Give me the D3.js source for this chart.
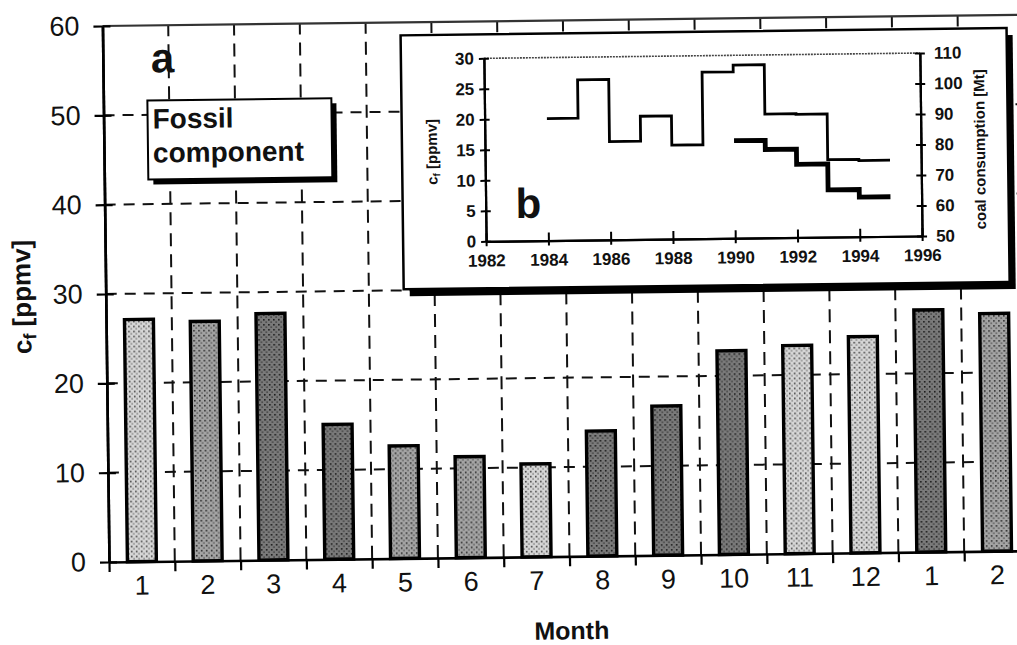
<!DOCTYPE html>
<html>
<head>
<meta charset="utf-8">
<script src="https://cdn.jsdelivr.net/npm/d3@7"></script>
<style>
  body { margin: 0; background: #fff; }
  svg { display: block; }
  text { font-family: "Liberation Sans", Arial, Helvetica, sans-serif; fill: #111; }
</style>
</head>
<body>
<svg id="chart" width="1017" height="645"></svg>
<script>
// panel a: monthly fossil component
var months = ["1", "2", "3", "4", "5", "6", "7", "8", "9", "10", "11", "12", "1", "2"];
var fossilPpmv = [27.1, 26.8, 27.6, 15.1, 12.6, 11.3, 10.4, 14.0, 16.7, 22.8, 23.3, 24.2, 27.1, 26.6];
var ppmvTicks = [0, 10, 20, 30, 40, 50, 60];

// panel b: annual c_f and coal consumption
var cfYears = [1984, 1985, 1986, 1987, 1988, 1989, 1990, 1991, 1992, 1993, 1994];
var cfAnnual = [20.0, 26.3, 16.1, 20.2, 15.4, 27.3, 28.4, 20.3, 20.2, 12.7, 12.5];
var coalYears = [1990, 1991, 1992, 1993, 1994];
var coalMt = [82, 79, 74, 65.5, 63];
var yearTicks = [1982, 1984, 1986, 1988, 1990, 1992, 1994, 1996];
var cfTicks = [0, 5, 10, 15, 20, 25, 30];
var coalTicks = [50, 60, 70, 80, 90, 100, 110];

// shading of the stippled bars (style only)
var barTone = [0, 1, 2, 2, 1, 1, 0, 2, 2, 2, 0, 0, 2, 1];

var svg = d3.select("#chart");

// stipple patterns
var defs = svg.append("defs");
var tones = [
  { bg: "#d6d6d6", dot: "#444" },
  { bg: "#a4a4a4", dot: "#2a2a2a" },
  { bg: "#7a7a7a", dot: "#1a1a1a" }
];
tones.forEach(function (t, k) {
  var p = defs.append("pattern").attr("id", "tone" + k)
    .attr("patternUnits", "userSpaceOnUse").attr("width", 5).attr("height", 5);
  p.append("rect").attr("width", 5).attr("height", 5).attr("fill", t.bg);
  p.append("rect").attr("x", 1).attr("y", 1).attr("width", 1.6).attr("height", 1.6).attr("fill", t.dot);
  p.append("rect").attr("x", 3.5).attr("y", 3.5).attr("width", 1.2).attr("height", 1.2).attr("fill", t.dot);
});

// the scan is slightly tilted
var root = svg.append("g").attr("transform", "rotate(-0.7,107,562)");

var x0 = 109, x1 = 1030;
var y = d3.scaleLinear().domain([0, 60]).range([562, 26]);
var xEdge = d3.scaleLinear().domain([0, months.length]).range([x0, x1]);
var xBand = d3.scaleBand().domain(d3.range(months.length)).range([x0, x1]);
var xBar = d3.scaleBand().domain(d3.range(months.length)).range([x0, x1])
  .paddingInner(0.56).paddingOuter(0.28);

// grid
root.append("g").selectAll("line.h")
  .data(ppmvTicks.filter(function (d) { return d > 0 && d < 60; }))
  .enter().append("line")
  .attr("x1", x0).attr("x2", x1)
  .attr("y1", function (d) { return y(d); }).attr("y2", function (d) { return y(d); })
  .attr("stroke", "#111").attr("stroke-width", 2).attr("stroke-dasharray", "11,8");

root.append("g").selectAll("line.v")
  .data(d3.range(1, months.length + 1))
  .enter().append("line")
  .attr("x1", function (d) { return xEdge(d); }).attr("x2", function (d) { return xEdge(d); })
  .attr("y1", y(0)).attr("y2", y(60))
  .attr("stroke", "#111").attr("stroke-width", 2).attr("stroke-dasharray", "13,8");

root.append("line")
  .attr("x1", x0).attr("x2", x1).attr("y1", y(60)).attr("y2", y(60))
  .attr("stroke", "#333").attr("stroke-width", 2.2);

// bars
root.selectAll(".bar")
  .data(fossilPpmv)
  .enter().append("rect")
  .attr("class", "bar")
  .attr("x", function (d, i) { return xBar(i); })
  .attr("width", xBar.bandwidth())
  .attr("y", function (d) { return y(d); })
  .attr("height", function (d) { return y(0) - y(d); })
  .attr("fill", function (d, i) { return "url(#tone" + barTone[i] + ")"; })
  .attr("stroke", "#000").attr("stroke-width", 3.4);

// y axis with cross ticks
var yAxisL = root.append("g").attr("transform", "translate(" + x0 + ",0)")
  .call(d3.axisLeft(y).tickValues(ppmvTicks).tickSize(9).tickSizeOuter(0).tickPadding(14));
root.append("g").attr("transform", "translate(" + x0 + ",0)")
  .call(d3.axisRight(y).tickValues(ppmvTicks).tickSize(8).tickSizeOuter(0).tickFormat(""));
yAxisL.selectAll("text").style("font-size", "27px");

// x axis: edge ticks and month labels
root.append("g").attr("transform", "translate(0," + y(0) + ")")
  .call(d3.axisBottom(xEdge).tickValues(d3.range(months.length + 1)).tickSize(10).tickSizeOuter(0).tickFormat(""));
var xAxis = root.append("g").attr("transform", "translate(0," + y(0) + ")")
  .call(d3.axisBottom(xBand).tickSize(0).tickPadding(14).tickFormat(function (i) { return months[i]; }));
xAxis.select(".domain").remove();
xAxis.selectAll("text").style("font-size", "27px");

root.selectAll(".domain").attr("stroke-width", 2.6).attr("stroke", "#000");
root.selectAll(".tick line").attr("stroke-width", 2.2).attr("stroke", "#000");

// titles
var yt = root.append("text")
  .attr("transform", "translate(34,296) rotate(-90)")
  .attr("text-anchor", "middle")
  .style("font-size", "26px").style("font-weight", "bold");
yt.append("tspan").text("c");
yt.append("tspan").text("f").style("font-size", "18px").attr("dy", 5);
yt.append("tspan").text(" [ppmv]").attr("dy", -5);

root.append("text").attr("x", 571).attr("y", 645)
  .attr("text-anchor", "middle")
  .style("font-size", "25px").style("font-weight", "bold").text("Month");

root.append("text").attr("x", 157).attr("y", 73)
  .style("font-size", "42px").style("font-weight", "bold").text("a");

// Fossil component box
var fb = root.append("g").attr("transform", "translate(153,101)");
fb.append("rect").attr("x", 5).attr("y", 5).attr("width", 184).attr("height", 79).attr("fill", "#000");
fb.append("rect").attr("width", 184).attr("height", 79).attr("fill", "#fff")
  .attr("stroke", "#000").attr("stroke-width", 2);
fb.append("text").attr("x", 5).attr("y", 28)
  .style("font-size", "28px").style("font-weight", "bold").text("Fossil");
fb.append("text").attr("x", 5).attr("y", 62)
  .style("font-size", "28px").style("font-weight", "bold").text("component");

// inset b
var inset = root.append("g");
inset.append("rect").attr("x", 413).attr("y", 46).attr("width", 606).attr("height", 254).attr("fill", "#000");
inset.append("rect").attr("x", 407).attr("y", 39).attr("width", 606).attr("height", 254)
  .attr("fill", "#fff").attr("stroke", "#000").attr("stroke-width", 2.5);

var bx = d3.scaleLinear().domain([1982, 1996]).range([490, 926]);
var by = d3.scaleLinear().domain([0, 30]).range([246, 63]);
var byCoal = d3.scaleLinear().domain([50, 110]).range([246, 63]);

inset.append("line")
  .attr("x1", bx(1982)).attr("x2", bx(1996)).attr("y1", by(30)).attr("y2", by(30))
  .attr("stroke", "#444").attr("stroke-width", 1.6).attr("stroke-dasharray", "2,1");

inset.append("g").attr("transform", "translate(" + bx(1982) + ",0)")
  .call(d3.axisLeft(by).tickValues(cfTicks).tickSize(5).tickSizeOuter(0).tickPadding(5));
inset.append("g").attr("transform", "translate(" + bx(1982) + ",0)")
  .call(d3.axisRight(by).tickValues(cfTicks).tickSize(5).tickSizeOuter(0).tickFormat(""));
inset.append("g").attr("transform", "translate(" + bx(1996) + ",0)")
  .call(d3.axisRight(byCoal).tickValues(coalTicks).tickSize(5).tickSizeOuter(0).tickPadding(9));
inset.append("g").attr("transform", "translate(" + bx(1996) + ",0)")
  .call(d3.axisLeft(byCoal).tickValues(coalTicks).tickSize(5).tickSizeOuter(0).tickFormat(""));
inset.append("g").attr("transform", "translate(0," + by(0) + ")")
  .call(d3.axisBottom(bx).tickValues(yearTicks).tickSize(5).tickSizeOuter(0).tickFormat(d3.format("d")).tickPadding(8));
inset.append("g").attr("transform", "translate(0," + by(0) + ")")
  .call(d3.axisTop(bx).tickValues(yearTicks).tickSize(8).tickSizeOuter(0).tickFormat(""));

inset.selectAll("text").style("font-size", "17px").style("font-weight", "bold");
inset.selectAll(".domain").attr("stroke-width", 2.2).attr("stroke", "#000");
inset.selectAll(".tick line").attr("stroke-width", 2).attr("stroke", "#000");

// step lines
var cfPts = cfYears.map(function (yr, i) { return [yr, cfAnnual[i]]; });
cfPts.push([cfYears[cfYears.length - 1] + 1, cfAnnual[cfAnnual.length - 1]]);
var coalPts = coalYears.map(function (yr, i) { return [yr, coalMt[i]]; });
coalPts.push([coalYears[coalYears.length - 1] + 1, coalMt[coalMt.length - 1]]);

inset.append("path").datum(cfPts)
  .attr("d", d3.line().curve(d3.curveStepAfter)
    .x(function (d) { return bx(d[0]); }).y(function (d) { return by(d[1]); }))
  .attr("fill", "none").attr("stroke", "#000").attr("stroke-width", 2.8);

inset.append("path").datum(coalPts)
  .attr("d", d3.line().curve(d3.curveStepAfter)
    .x(function (d) { return bx(d[0]); }).y(function (d) { return byCoal(d[1]); }))
  .attr("fill", "none").attr("stroke", "#000").attr("stroke-width", 4.8);

var lt = inset.append("text")
  .attr("transform", "translate(442,156) rotate(-90)")
  .attr("text-anchor", "middle")
  .style("font-size", "15px").style("font-weight", "bold");
lt.append("tspan").text("c");
lt.append("tspan").text("f").style("font-size", "10px").attr("dy", 3);
lt.append("tspan").text(" [ppmv]").attr("dy", -3);

inset.append("text")
  .attr("transform", "translate(990,160) rotate(-90)")
  .attr("text-anchor", "middle")
  .style("font-size", "15px").style("font-weight", "bold")
  .text("coal consumption [Mt]");

inset.append("text").attr("x", 520).attr("y", 223)
  .style("font-size", "42px").style("font-weight", "bold").text("b");
</script>
</body>
</html>
